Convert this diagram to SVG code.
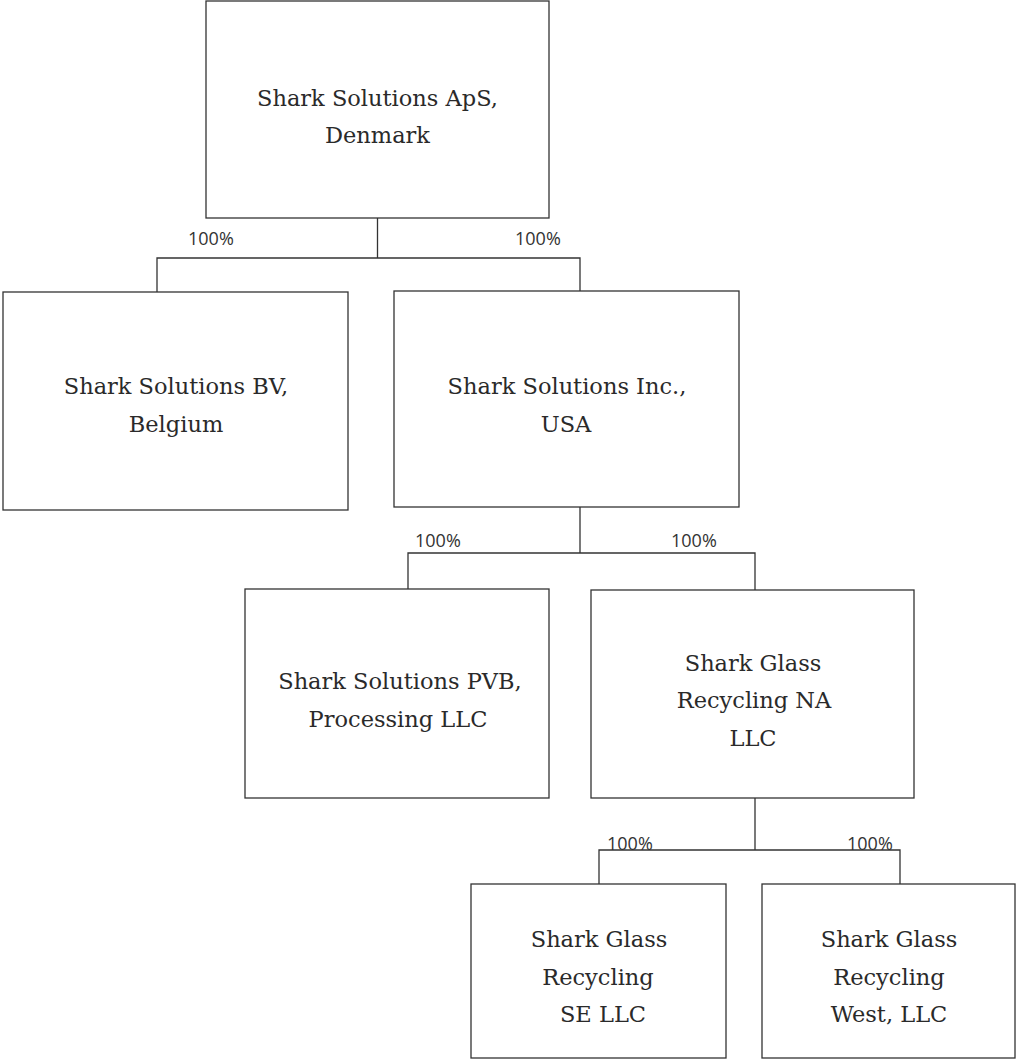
<svg xmlns="http://www.w3.org/2000/svg" width="1016" height="1061" viewBox="0 0 1016 1061">
<style>
.box{fill:#fff;stroke:#333;stroke-width:1.3}
.t{font-family:"DejaVu Serif",serif;font-size:22.5px;fill:#2a2a2a;text-anchor:middle}
.p{font-family:"Open Sans","Liberation Sans",sans-serif;font-size:18px;fill:#333}
.c{fill:none;stroke:#333;stroke-width:1.3}
</style>
<rect width="1016" height="1061" fill="#fff"/>
<g id="connectors">
<path class="c" d="M377.5 218V258M157 292V258H580V291"/>
<path class="c" d="M580 507V553M408 589V553H755V590"/>
<path class="c" d="M755 798V850M599 884V850H900V884"/>
<text class="p" x="188" y="245">100%</text>
<text class="p" x="515" y="245">100%</text>
<text class="p" x="415" y="547">100%</text>
<text class="p" x="671" y="547">100%</text>
<text class="p" x="607" y="850">100%</text>
<text class="p" x="847" y="850">100%</text>
</g>
<g id="denmark">
<rect class="box" x="206" y="1" width="343" height="217"/>
<text class="t" x="377.5" y="106">Shark Solutions ApS,</text>
<text class="t" x="377.5" y="143">Denmark</text>
</g>
<g id="belgium">
<rect class="box" x="3" y="292" width="345" height="218"/>
<text class="t" x="176" y="394">Shark Solutions BV,</text>
<text class="t" x="176" y="432">Belgium</text>
</g>
<g id="usa">
<rect class="box" x="394" y="291" width="345" height="216"/>
<text class="t" x="567" y="394">Shark Solutions Inc.,</text>
<text class="t" x="566" y="432">USA</text>
</g>
<g id="pvb">
<rect class="box" x="245" y="589" width="304" height="209"/>
<text class="t" x="400" y="689">Shark Solutions PVB,</text>
<text class="t" x="398" y="727">Processing LLC</text>
</g>
<g id="glassna">
<rect class="box" x="591" y="590" width="323" height="208"/>
<text class="t" x="753" y="671">Shark Glass</text>
<text class="t" x="754" y="708">Recycling NA</text>
<text class="t" x="753" y="746">LLC</text>
</g>
<g id="glassse">
<rect class="box" x="471" y="884" width="255" height="174"/>
<text class="t" x="599" y="947">Shark Glass</text>
<text class="t" x="598" y="985">Recycling</text>
<text class="t" x="603" y="1022">SE LLC</text>
</g>
<g id="glasswest">
<rect class="box" x="762" y="884" width="253" height="174"/>
<text class="t" x="889" y="947">Shark Glass</text>
<text class="t" x="889" y="985">Recycling</text>
<text class="t" x="889" y="1022">West, LLC</text>
</g>
</svg>
